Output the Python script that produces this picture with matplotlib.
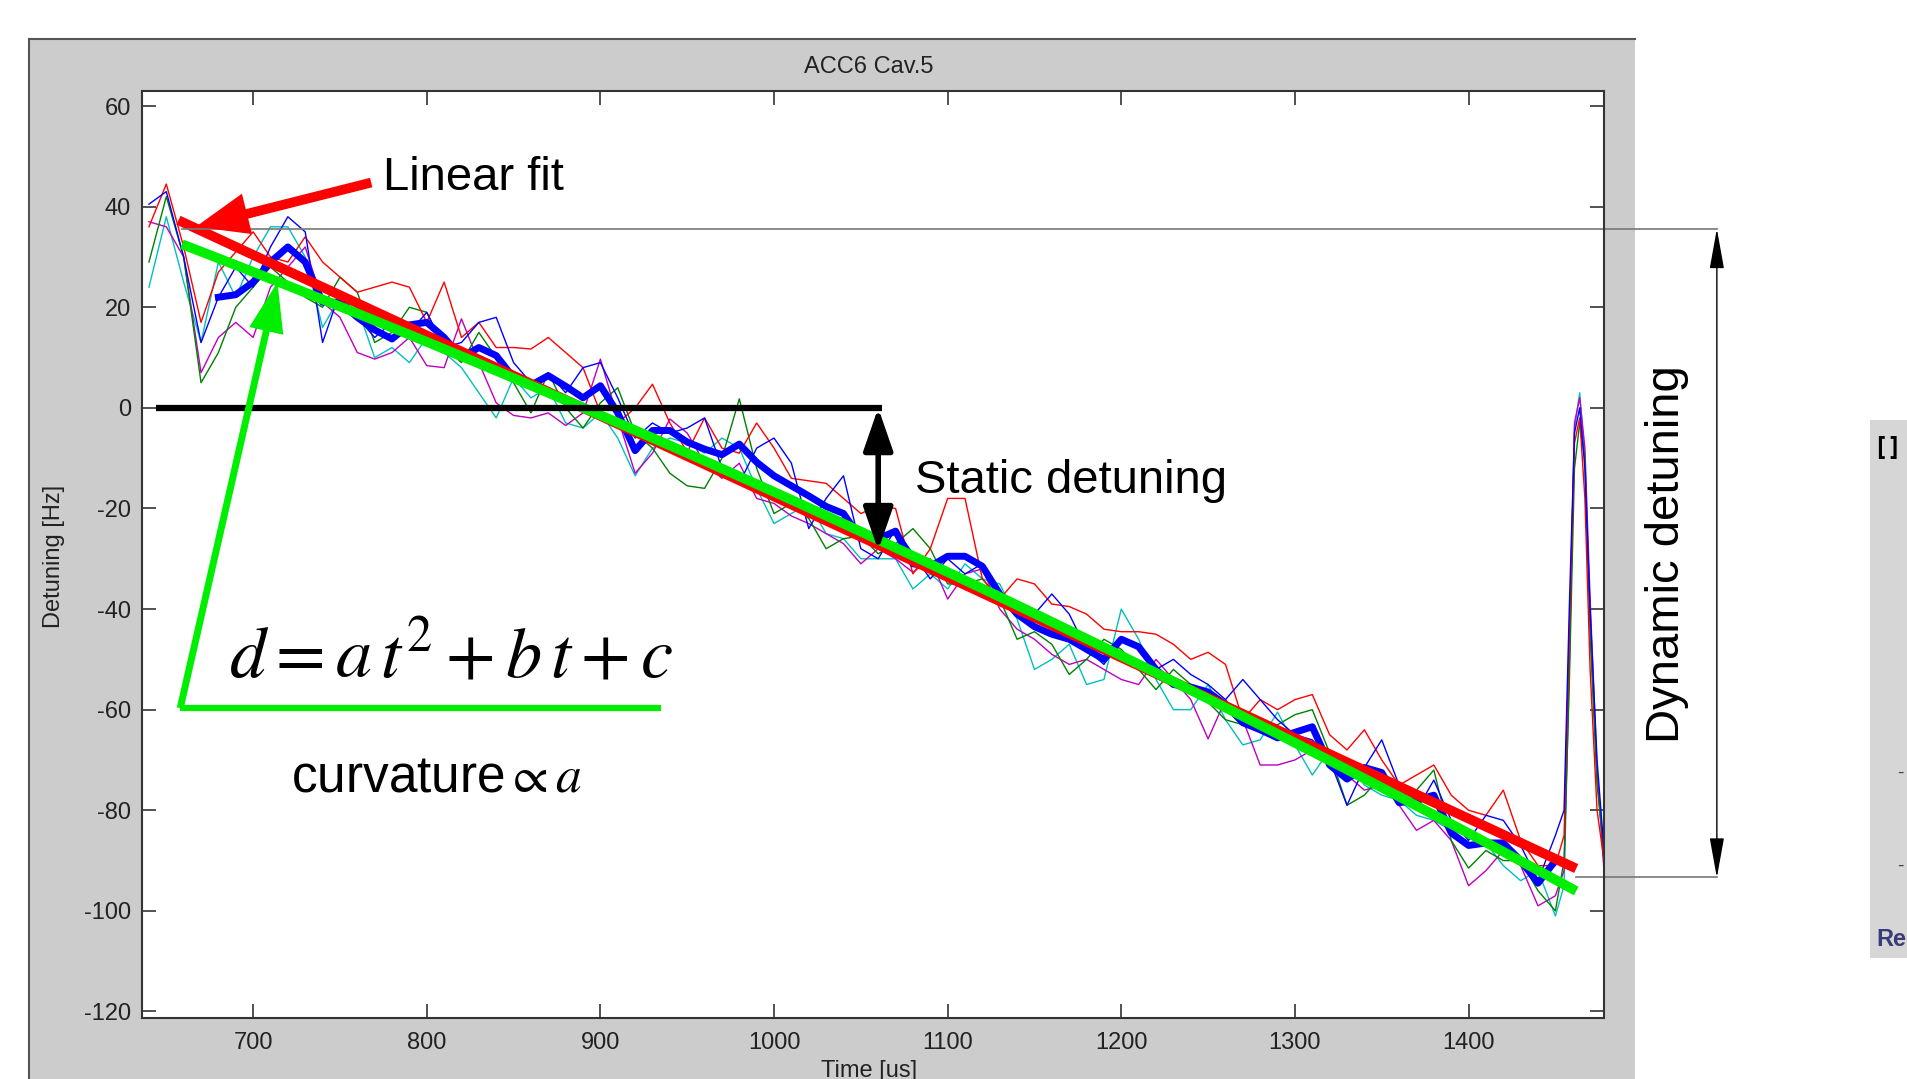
import numpy as np
import matplotlib
matplotlib.use('Agg')
import matplotlib.pyplot as plt
from matplotlib.patches import Rectangle
from matplotlib.lines import Line2D

plt.rcParams['font.family'] = ['Liberation Sans', 'DejaVu Sans']
plt.rcParams['mathtext.fontset'] = 'stix'
plt.rcParams['axes.unicode_minus'] = False

# sample times [us]: 10 us grid, then the fast spike at the pulse end
t = np.concatenate([np.arange(640, 1451, 10),
                    [1455, 1458, 1461, 1464, 1467, 1470, 1474, 1478]])

blue = [40.5, 43, 30, 13, 22, 28, 24, 32, 38, 35,
        13, 23, 18, 14, 17, 15, 19, 12, 13, 17,
        18, 9, 5, 7, 3, 8, 9, 2, -6, -3,
        -5, -4, -2, -12, -15, -8, -6, -11, -24, -18,
        -13.5, -28, -30, -24, -29, -34, -30, -33, -31, -37,
        -40, -41, -37, -41, -48, -51, -46, -47, -52, -50,
        -53, -55, -58, -54, -58, -62, -65, -66, -70, -79,
        -71.5, -66, -75, -80, -74, -82, -86, -81, -82, -87,
        -94, -85,
        -80, -40, -5, 0, -12, -40, -70, -88]

red = [36, 44.5, 32, 17, 27, 31, 35, 30, 29, 34,
       29, 26, 23, 24, 25, 24, 17, 25, 14, 17,
       12, 12, 11.7, 14, 11, 8, -1, -3, 0, 4.7,
       -3, -8.8, -2, -8, -9, -3, -8, -14, -14.5, -15,
       -18, -21, -19.5, -20, -33, -28, -18, -18, -34, -38,
       -34, -35, -39, -39.5, -41, -44, -44.5, -44.5, -45, -47,
       -50, -48.6, -51, -62, -58, -60, -58, -57, -65, -68,
       -64, -70, -75, -73, -71, -77, -80, -81, -76, -86,
       -91, -91,
       -85, -45, -7, -2, -18, -52, -80, -90]

green = [29, 42, 30, 5, 11, 20, 24, 28, 25, 22,
         20, 26, 23, 13, 15, 20, 19, 12, 9, 15,
         10, 5, -1, 7, 0, -4, 1, 4, -5, -8,
         -13, -15.5, -16, -10, 1.8, -12, -21, -19, -22, -28,
         -26, -25.5, -29, -27, -24, -28, -35, -35, -34, -38,
         -46, -44.5, -47, -53, -50, -46, -48, -52, -56, -52,
         -55, -58.5, -62, -63, -62.5, -63, -61, -60, -68.6, -79,
         -77, -73, -79, -76, -72, -86, -91.5, -88, -90, -90,
         -96, -100,
         -90, -55, -12, -3, -10, -45, -75, -88]

magenta = [37, 36, 30, 7, 14, 17, 14, 24, 28, 32,
           21, 18, 11, 9.7, 11, 14, 8.4, 8, 17.7, 9,
           1, -1.5, -2, -1, -3.5, -1, 9.7, -2, -13, -9,
           -2.2, -5, -11, -14, -11, -18, -19, -21.5, -23, -25,
           -27, -31, -28, -30, -32.7, -30, -38, -33, -32, -40,
           -44, -46, -49, -51, -50, -52, -54, -55, -50, -54,
           -58, -65.8, -58, -62, -71, -71, -70, -68, -70, -73,
           -76, -75, -79, -84, -82, -86, -95, -92, -88, -91,
           -99, -97,
           -92, -50, -3, 2, -8, -38, -72, -92]

cyan = [24, 38, 25, 13, 29, 22, 30, 36, 36, 30,
        16, 22, 20, 10, 12, 9, 14, 11, 8, 3,
        -2, 6, 2, 4, -3, -4, -1, -6, -13.5, -8,
        -6, -7, -9, -6, -8, -16, -23, -21, -19, -25,
        -26, -30, -30, -30, -36, -33, -36, -31, -34, -35,
        -42, -52, -50, -47, -55, -54, -40, -46, -54, -60,
        -60, -55, -62, -67, -66, -60.5, -67, -73, -68, -70,
        -75, -77, -78, -81, -82, -84, -85, -86.5, -91, -94,
        -92, -101,
        -95, -52, -4, 3, -10, -42, -73, -90]

# thick blue trace (680 .. 1450 us)
t_thick = np.arange(680, 1451, 10)
thick = [22, 22.5, 25, 29, 32, 29, 21, 21, 18, 15.5,
         13.7, 16.5, 17, 14, 10, 12, 10.4, 6, 4.5, 6.4,
         4.3, 2, 4.4, -1, -8.5, -4.5, -4.5, -6.8, -8.2, -9.3,
         -7.2, -10.8, -13.5, -15.5, -17.5, -19.6, -21, -26, -26, -24.5,
         -31, -31.5, -29.5, -29.5, -31.5, -37, -41, -43.5, -45, -46,
         -48, -50, -46, -47.5, -52, -55, -55.5, -56.5, -59, -62.6,
         -64, -65.6, -64.5, -63.4, -71, -73.8, -71.5, -72.5, -78.5, -78,
         -77, -84.5, -87, -86.5, -86.5, -90, -94.5, -90]

# fits, s = t - fit_start
fit_start, fit_end = 657, 1462
lin_fit = [37.3, -0.1601]            # c0, c1
quad_fit = [32.8, -0.1327, -3.4e-5]  # c0, c1, c2

xticks = [700, 800, 900, 1000, 1100, 1200, 1300, 1400]
yticks = [60, 40, 20, 0, -20, -40, -60, -80, -100, -120]

W, H = 1908, 1079
fig = plt.figure(figsize=(W / 100, H / 100), dpi=100)
fig.patch.set_facecolor('white')

# gray matlab figure panel
fig.patches.append(Rectangle((29 / W, 0), (1635 - 29) / W, (1079 - 39) / H,
                             transform=fig.transFigure, facecolor='#cccccc',
                             edgecolor='none', zorder=-10))
fig.lines.append(Line2D([29 / W, 1635 / W], [1 - 39 / H, 1 - 39 / H],
                        transform=fig.transFigure, color='#555555', lw=1.5,
                        zorder=-9))
fig.lines.append(Line2D([29 / W, 29 / W], [0, 1 - 39 / H],
                        transform=fig.transFigure, color='#555555', lw=1.5,
                        zorder=-9))
# piece of the neighbouring window at the far right
fig.patches.append(Rectangle((1870 / W, 1 - 958 / H), 38 / W, 538 / H,
                             transform=fig.transFigure, facecolor='#d6d6d6',
                             edgecolor='none', zorder=-10))
fig.text(1873 / W, 1 - 448 / H, '[]', fontsize=17, fontweight='bold',
         family='DejaVu Sans Mono', va='center')
fig.text(1876 / W, 1 - 940 / H, 'Re', fontsize=17, fontweight='bold',
         color='#3b3b7a', va='center')
fig.text(1897 / W, 1 - 773 / H, '-', fontsize=14, color='#444444', va='center')
fig.text(1897 / W, 1 - 866 / H, '-', fontsize=14, color='#444444', va='center')

ax = fig.add_axes([142 / W, 1 - 1018 / H, (1604 - 142) / W, (1018 - 91) / H])
ax.set_facecolor('white')

ax.plot(t, cyan, color='#00bfbf', lw=1.0)
ax.plot(t, magenta, color='#bf00bf', lw=1.0)
ax.plot(t, green, color='#008000', lw=1.0)
ax.plot(t, red, color='#ff0000', lw=1.0)
ax.plot(t, blue, color='#0000ff', lw=1.0)
ax.plot(t_thick, thick, color='#0000ff', lw=5, solid_joinstyle='round')

s = np.linspace(0, fit_end - fit_start, 50)
ax.plot(fit_start + s, lin_fit[0] + lin_fit[1] * s, color='#ff0000', lw=7,
        solid_capstyle='butt')
s2 = np.linspace(2, fit_end - fit_start, 50)
ax.plot(fit_start + s2, quad_fit[0] + quad_fit[1] * s2 + quad_fit[2] * s2 ** 2,
        color='#00ee00', lw=7, solid_capstyle='butt')

ax.set_xlim(636, 1478)
ax.set_ylim(-121.3, 63)
ax.set_xticks(xticks)
ax.set_yticks(yticks)
ax.tick_params(direction='in', length=10, width=1.2, top=True, right=True,
               labelsize=17, labelcolor='#222222', color='#333333')
ax.tick_params(axis='y', pad=8)
ax.tick_params(axis='x', pad=10)
for sp in ax.spines.values():
    sp.set_linewidth(1.5)
    sp.set_color('#333333')

fig.text(869 / W, 1 - 67 / H, 'ACC6 Cav.5', fontsize=17, color='#222222',
         ha='center', va='center')
fig.text(54 / W, 1 - 556 / H, 'Detuning [Hz]', fontsize=17, color='#222222',
         ha='center', va='center', rotation=90)
fig.text(869 / W, 1 - 1071 / H, 'Time [us]', fontsize=17, color='#222222',
         ha='center', va='center')

# static detuning
ax.plot([644, 1062], [0, 0], color='black', lw=4.5, solid_capstyle='butt')
ax.annotate('', xy=(1060, 0), xytext=(1060, -28.3),
            arrowprops=dict(arrowstyle='<|-|>,head_length=2.6,head_width=0.9',
                            mutation_scale=10, lw=4, color='black',
                            shrinkA=0, shrinkB=0))
ax.text(1081, -14.5, 'Static detuning', fontsize=34, ha='left', va='center')

# linear fit label
ax.annotate('', xy=(667, 36), xytext=(768, 44.8),
            arrowprops=dict(arrowstyle='simple,head_length=3.8,head_width=3.0,tail_width=0.7',
                            mutation_scale=10, color='#ff0000', lw=0,
                            shrinkA=0, shrinkB=0))
ax.text(775, 45.7, 'Linear fit', fontsize=34, ha='left', va='center')

# quadratic fit label
ax.plot([935, 658], [-59.7, -59.7], color='#00ee00', lw=4.5,
        solid_capstyle='butt')
ax.annotate('', xy=(714, 25), xytext=(658, -59.7),
            arrowprops=dict(arrowstyle='simple,head_length=3.6,head_width=2.5,tail_width=0.5',
                            mutation_scale=10, color='#00ee00', lw=0,
                            shrinkA=0, shrinkB=0))
ax.text(686, -53.4, r'$d=a\,t^2+b\,t+c$', fontsize=52, ha='left',
        va='baseline')
ax.text(722, -73.5, r'curvature$\propto a$', fontsize=37, ha='left',
        va='center')

# dynamic detuning, drawn past the axes
ax.plot([659, 1543], [35.6, 35.6], color='#777777', lw=1.2, clip_on=False)
ax.plot([1462, 1543], [-93.3, -93.3], color='#777777', lw=1.2, clip_on=False)
ax.annotate('', xy=(1543, 35.6), xytext=(1543, -93.4),
            arrowprops=dict(arrowstyle='<|-|>,head_length=2.5,head_width=0.45',
                            mutation_scale=10, lw=1.0, color='black',
                            shrinkA=0, shrinkB=0),
            annotation_clip=False)
ax.text(1514, -29, 'Dynamic detuning', fontsize=34, rotation=90,
        ha='center', va='center', clip_on=False)

fig.savefig('out.png', dpi=100)
